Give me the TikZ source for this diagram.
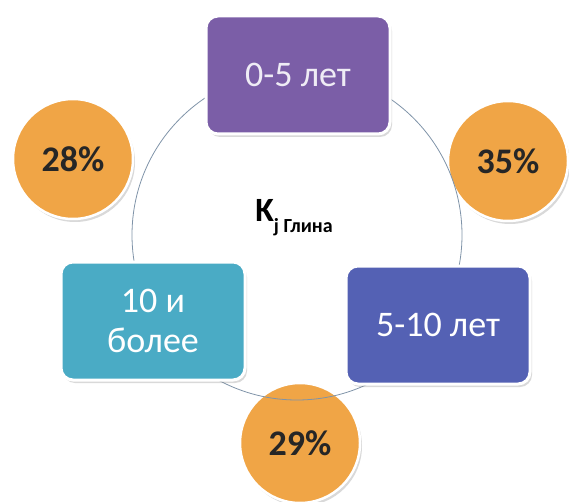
\documentclass[tikz,border=0pt]{standalone}
\usepackage{fontspec}
\setmainfont{Carlito}
\usepackage{xcolor}
\usepackage{tikz}
\usetikzlibrary{positioning,shadows}

\definecolor{ageviolet}{HTML}{7B5EA7}
\definecolor{ageteal}{HTML}{4AABC5}
\definecolor{ageblue}{HTML}{5461B4}
\definecolor{shareorange}{HTML}{F0A546}
\definecolor{ringgray}{HTML}{7F93A8}

\begin{document}
\begin{tikzpicture}[
    x=1pt, y=-1pt,
    agebox/.style = {
        rectangle,
        draw=white,
        line width=3pt,
        rounded corners=12pt,
        minimum width=184pt,
        minimum height=118pt,
        align=center,
        text=white,
        font=\fontsize{36}{40}\selectfont,
        drop shadow={opacity=0.3, shadow xshift=2pt, shadow yshift=-3pt}
    },
    young/.style  = {agebox, fill=ageviolet, text=white!88!ageviolet},
    middle/.style = {agebox, fill=ageblue},
    old/.style    = {agebox, fill=ageteal},
    share/.style  = {
        circle,
        fill=shareorange,
        draw=white,
        line width=2.5pt,
        minimum size=120pt,
        inner sep=0pt,
        text=black!85,
        font=\fontsize{36}{40}\selectfont\bfseries,
        drop shadow={opacity=0.3, shadow xshift=2pt, shadow yshift=-3pt}
    },
    ring/.style = {draw=ringgray, line width=0.8pt}
]

\useasboundingbox (0,0) rectangle (569,502);

% shares
\node[share] (shareyoung)  at (73,159)  {28\%};
\node[share] (sharemiddle) at (508,161) {35\%};
\node[share] (shareold)    at (300,443) {29\%};

% ring behind the groups
\coordinate (hub) at (297,235);
\draw[ring] (hub) circle[radius=165];

% age groups
\node[young]  (agetop)   at (298,75)  {0-5 лет};
\node[old]    (ageleft)  at (153,321) {10 и\\более};
\node[middle] (ageright) at (438,325) {5-10 лет};

\node[font=\bfseries] (coef) at (294,218)
    {\fontsize{34}{36}\selectfont K\raisebox{-11pt}{\fontsize{20}{22}\selectfont j Глина}};

\end{tikzpicture}
\end{document}
